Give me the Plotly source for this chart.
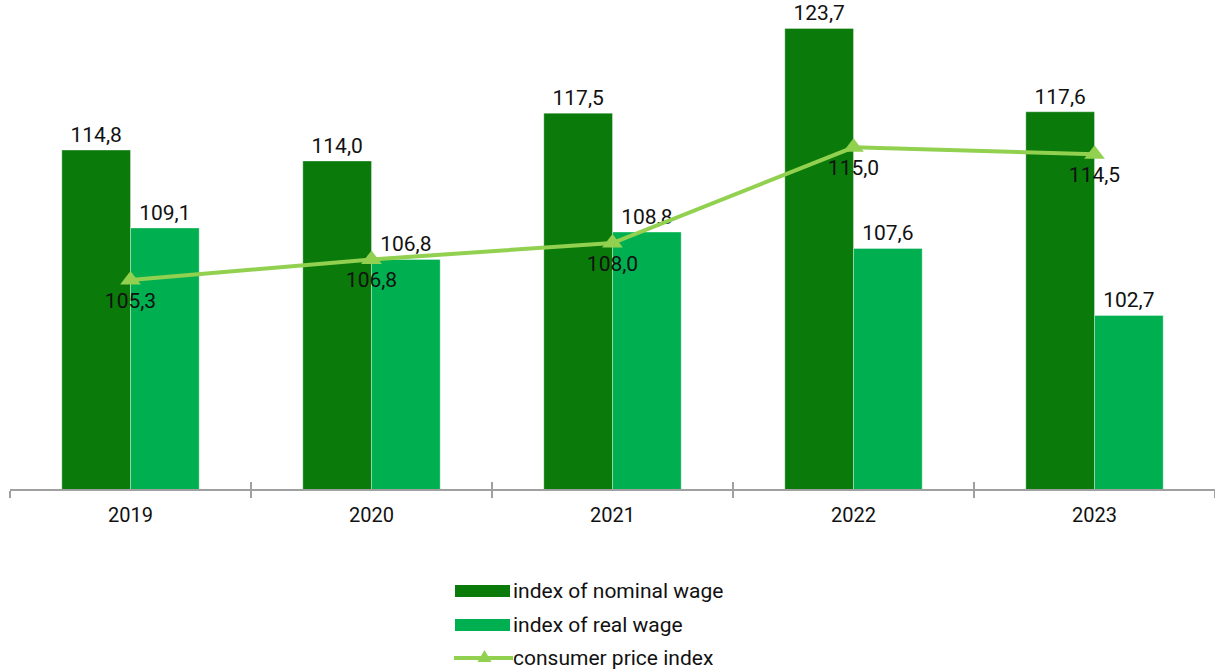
import plotly.graph_objects as go

years = ["2019", "2020", "2021", "2022", "2023"]
nominal = [114.8, 114.0, 117.5, 123.7, 117.6]
real = [109.1, 106.8, 108.8, 107.6, 102.7]
cpi = [105.3, 106.8, 108.0, 115.0, 114.5]
names = ["index of nominal wage", "index of real wage", "consumer price index"]

C_NOM = "#0a7a0a"
C_REAL = "#00b050"
C_CPI = "#92d050"
C_AX = "#a0a0a0"
FONT = "Roboto"
FS = 21


def fmt(vals):
    return [f"{v:.1f}".replace(".", ",") for v in vals]


fig = go.Figure()
fig.add_bar(x=years, y=nominal, name=names[0], marker_color=C_NOM,
            marker_line=dict(color="rgba(255,255,255,0.35)", width=1),
            text=fmt(nominal), textposition="outside",
            textfont=dict(size=FS, color="#111111", family=FONT), cliponaxis=False)
fig.add_bar(x=years, y=real, name=names[1], marker_color=C_REAL,
            marker_line=dict(color="rgba(255,255,255,0.35)", width=1),
            text=fmt(real), textposition="outside",
            textfont=dict(size=FS, color="#111111", family=FONT), cliponaxis=False)
fig.add_scatter(x=years, y=cpi, name=names[2], mode="lines+markers+text",
                line=dict(color=C_CPI, width=4),
                marker=dict(symbol="triangle-up", size=18, color=C_CPI),
                text=fmt(cpi), textposition="bottom center",
                textfont=dict(size=FS, color="#111111", family=FONT), cliponaxis=False)
# invisible helper so the overlay axis (upper tick halves) carries the categories
fig.add_scatter(x=years, y=[None] * len(years), xaxis="x2", yaxis="y",
                mode="markers", showlegend=False, hoverinfo="skip")

W, H = 1215, 669
L, R, T = 10, 0, 0
BASE = 489
B = H - BASE
plot_h = BASE - T
plot_w = W - L - R
ppu = 13.667
ytop = 90 + plot_h / ppu


def py(ypage):
    return (BASE - ypage) / plot_h


def px(xpage):
    return (xpage - L) / plot_w


shapes = []
annotations = []
legend_y = [591, 625, 658]
x0, x1 = 455, 510
for i, nm in enumerate(names):
    yc = legend_y[i]
    if i < 2:
        shapes.append(dict(type="rect", xref="paper", yref="paper",
                           x0=px(x0), x1=px(x1), y0=py(yc + 6), y1=py(yc - 6),
                           fillcolor=[C_NOM, C_REAL][i], line=dict(width=0)))
    else:
        shapes.append(dict(type="line", xref="paper", yref="paper",
                           x0=px(x0 - 1), x1=px(x1 + 3), y0=py(yc), y1=py(yc),
                           line=dict(color=C_CPI, width=4)))
        xm = (x0 + x1) / 2 + 2
        shapes.append(dict(type="path", xref="paper", yref="paper",
                           path=f"M {px(xm-7)},{py(yc+4)} L {px(xm+7)},{py(yc+4)} L {px(xm)},{py(yc-8)} Z",
                           fillcolor=C_CPI, line=dict(width=0)))
    annotations.append(dict(xref="paper", yref="paper", x=px(511), y=py(yc),
                            text=nm, showarrow=False, xanchor="left", yanchor="middle",
                            font=dict(size=FS, color="#111111", family=FONT)))

fig.update_layout(
    width=W, height=H,
    margin=dict(l=L, r=R, t=T, b=B, pad=0),
    plot_bgcolor="white", paper_bgcolor="white",
    barmode="group", bargap=0.43, bargroupgap=0,
    showlegend=False,
    font=dict(family=FONT, size=FS, color="#111111"),
    shapes=shapes, annotations=annotations,
    xaxis=dict(type="category", showline=True, linecolor=C_AX, linewidth=2,
               ticks="outside", tickson="boundaries", ticklen=7, tickcolor=C_AX,
               tickwidth=2, tickfont=dict(size=FS - 1, color="#111111", family=FONT),
               showgrid=False, ticklabelstandoff=7,
               categoryorder="array", categoryarray=years, range=[-0.5, 4.5]),
    xaxis2=dict(type="category", overlaying="x", anchor="y", side="bottom",
                categoryorder="array", categoryarray=years, range=[-0.5, 4.5],
                ticks="inside", tickson="boundaries", ticklen=7,
                tickcolor=C_AX, tickwidth=2, showticklabels=False,
                showline=False, showgrid=False, zeroline=False),
    yaxis=dict(range=[90, ytop], visible=False, showgrid=False),
)

fig.write_html("out.html", config={"displayModeBar": False},
               post_script="document.body.style.margin='0';")
